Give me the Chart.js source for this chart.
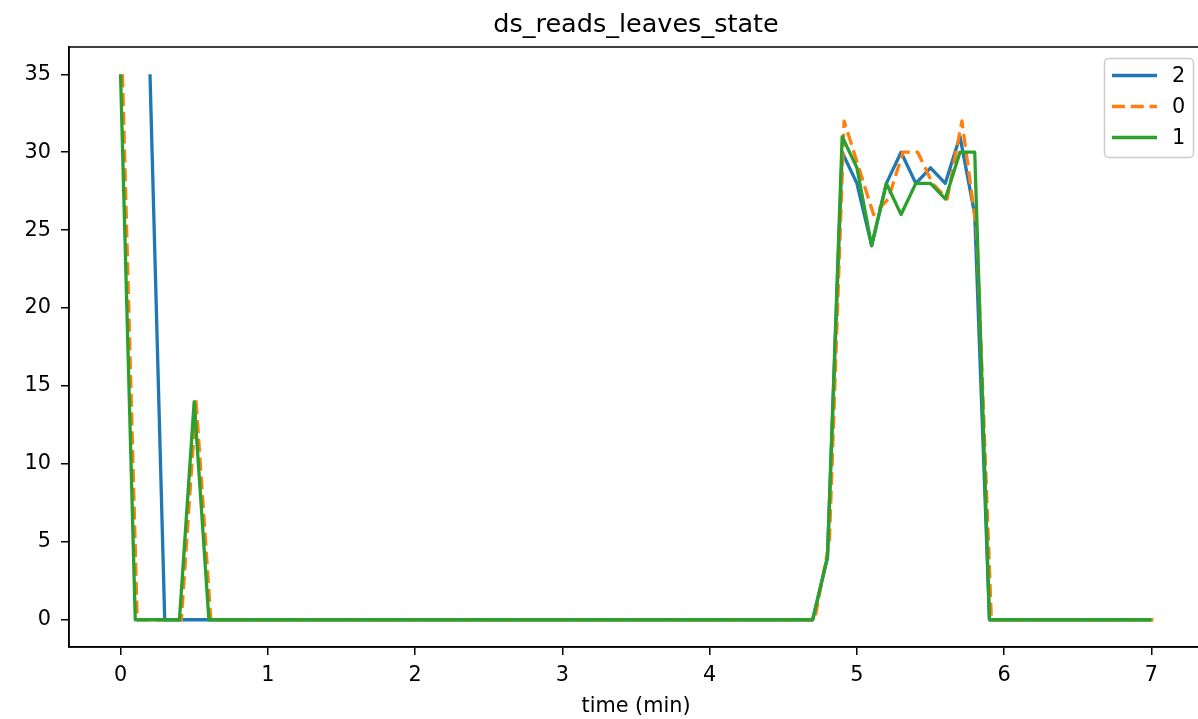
<!DOCTYPE html>
<html>
<head>
<meta charset="utf-8">
<script src="https://cdn.jsdelivr.net/npm/chart.js@4.4.0/dist/chart.umd.min.js"></script>
<style>
  html, body { margin: 0; padding: 0; background: #fff; overflow: hidden; }
  #wrap { width: 1198px; height: 719px; overflow: hidden; }
</style>
</head>
<body>
<!-- the axes run a few px past the right edge of the picture, so the canvas is wider and cropped -->
<div id="wrap"><canvas id="chart" width="1204" height="719"></canvas></div>
<script>
// sample times (min), one sample every 6 s
const times = [
  0.0, 0.1, 0.2, 0.3, 0.4, 0.5, 0.6, 0.7, 0.8, 0.9,
  1.0, 1.1, 1.2, 1.3, 1.4, 1.5, 1.6, 1.7, 1.8, 1.9,
  2.0, 2.1, 2.2, 2.3, 2.4, 2.5, 2.6, 2.7, 2.8, 2.9,
  3.0, 3.1, 3.2, 3.3, 3.4, 3.5, 3.6, 3.7, 3.8, 3.9,
  4.0, 4.1, 4.2, 4.3, 4.4, 4.5, 4.6, 4.7, 4.8, 4.9,
  5.0, 5.1, 5.2, 5.3, 5.4, 5.5, 5.6, 5.7, 5.8, 5.9,
  6.0, 6.1, 6.2, 6.3, 6.4, 6.5, 6.6, 6.7, 6.8, 6.9,
  7.0
];
// series "0" is sampled a little later than the others
const lag0 = 0.013;

const series2 = [
  null, null, 35, 0, 0, 0, 0, 0, 0, 0,
  0, 0, 0, 0, 0, 0, 0, 0, 0, 0,
  0, 0, 0, 0, 0, 0, 0, 0, 0, 0,
  0, 0, 0, 0, 0, 0, 0, 0, 0, 0,
  0, 0, 0, 0, 0, 0, 0, 0, 4, 30,
  28, 24, 28, 30, 28, 29, 28, 31, 26, 0,
  0, 0, 0, 0, 0, 0, 0, 0, 0, 0,
  0
];
const series0 = [
  35, 0, 0, 0, 0, 14, 0, 0, 0, 0,
  0, 0, 0, 0, 0, 0, 0, 0, 0, 0,
  0, 0, 0, 0, 0, 0, 0, 0, 0, 0,
  0, 0, 0, 0, 0, 0, 0, 0, 0, 0,
  0, 0, 0, 0, 0, 0, 0, 0, 5, 32,
  29, 26, 27, 30, 30, 28, 27, 32, 25, 0,
  0, 0, 0, 0, 0, 0, 0, 0, 0, 0,
  0
];
const series1 = [
  35, 0, 0, 0, 0, 14, 0, 0, 0, 0,
  0, 0, 0, 0, 0, 0, 0, 0, 0, 0,
  0, 0, 0, 0, 0, 0, 0, 0, 0, 0,
  0, 0, 0, 0, 0, 0, 0, 0, 0, 0,
  0, 0, 0, 0, 0, 0, 0, 0, 4, 31,
  29, 24, 28, 26, 28, 28, 27, 30, 30, 0,
  0, 0, 0, 0, 0, 0, 0, 0, 0, 0,
  0
];

const xTicks = [0, 1, 2, 3, 4, 5, 6, 7];
const yTicks = [0, 5, 10, 15, 20, 25, 30, 35];

const FONT = "'DejaVu Sans', sans-serif";
const TITLE = "ds_reads_leaves_state";
const LW = 3.3;
const DASH = [13, 5.8];

function toPoints(vals, shift) {
  return vals.map((v, i) => ({ x: times[i] + shift, y: v }));
}

const legendItems = [
  { label: "2", color: "#1f77b4", dash: [] },
  { label: "0", color: "#ff7f0e", dash: DASH },
  { label: "1", color: "#2ca02c", dash: [] },
];

// matplotlib-style frame, title over the axes, legend box
const framePlugin = {
  id: "frame",
  afterDatasetsDraw(chart) {
    const { ctx, chartArea: a } = chart;
    ctx.save();
    ctx.strokeStyle = "#000";
    ctx.lineWidth = 1.5;
    ctx.strokeRect(a.left, a.top, a.right - a.left, a.bottom - a.top);

    ctx.fillStyle = "#000";
    ctx.font = "25.5px " + FONT;
    ctx.textAlign = "center";
    ctx.textBaseline = "alphabetic";
    ctx.fillText(TITLE, (a.left + a.right) / 2, 32);

    // legend
    const bx = 1104, by = 58, bw = 89, bh = 99;
    ctx.beginPath();
    ctx.roundRect(bx + 0.5, by + 0.5, bw, bh, 4);
    ctx.fillStyle = "rgba(255,255,255,0.8)";
    ctx.fill();
    ctx.strokeStyle = "#cccccc";
    ctx.lineWidth = 1.5;
    ctx.stroke();
    ctx.font = "20.8px " + FONT;
    ctx.textBaseline = "middle";
    ctx.textAlign = "left";
    legendItems.forEach((it, i) => {
      const y = 75.5 + i * 31;
      ctx.beginPath();
      ctx.setLineDash(it.dash);
      ctx.strokeStyle = it.color;
      ctx.lineWidth = LW;
      ctx.moveTo(1112, y);
      ctx.lineTo(1157, y);
      ctx.stroke();
      ctx.setLineDash([]);
      ctx.fillStyle = "#000";
      ctx.fillText(it.label, 1172, y + 1);
    });
    ctx.restore();
  }
};

new Chart(document.getElementById("chart"), {
  type: "line",
  data: {
    datasets: [
      { label: "2", data: toPoints(series2, 0), borderColor: "#1f77b4", order: 2 },
      { label: "0", data: toPoints(series0, lag0), borderColor: "#ff7f0e", borderDash: DASH, order: 1 },
      { label: "1", data: toPoints(series1, 0), borderColor: "#2ca02c", order: 0 },
    ]
  },
  options: {
    responsive: false,
    animation: false,
    devicePixelRatio: 1,
    spanGaps: false,
    layout: { padding: { left: 0, right: 1, top: 47, bottom: 0 } },
    elements: {
      point: { radius: 0 },
      line: { borderWidth: LW, tension: 0, borderJoinStyle: "round", borderCapStyle: "butt", fill: false }
    },
    plugins: {
      legend: { display: false },
      tooltip: { enabled: false },
      title: { display: false }
    },
    scales: {
      x: {
        type: "linear",
        min: -0.35,
        max: 7.35,
        afterBuildTicks: axis => { axis.ticks = xTicks.map(v => ({ value: v })); },
        afterFit: axis => { axis.height = 72; },
        grid: { display: true, drawOnChartArea: false, drawTicks: true, tickLength: 8, color: "#000", lineWidth: 1.5 },
        border: { display: true, color: "#000", width: 1.5 },
        ticks: { color: "#000", font: { family: FONT, size: 20.8 }, padding: 8, maxRotation: 0 },
        title: {
          display: true,
          text: "time (min)",
          color: "#000",
          font: { family: FONT, size: 20.8 },
          padding: { top: 0, bottom: 0 }
        }
      },
      y: {
        type: "linear",
        min: -1.75,
        max: 36.75,
        afterBuildTicks: axis => { axis.ticks = yTicks.map(v => ({ value: v })); },
        afterFit: axis => { axis.width = 69; },
        grid: { display: true, drawOnChartArea: false, drawTicks: true, tickLength: 8, color: "#000", lineWidth: 1.5 },
        border: { display: true, color: "#000", width: 1.5 },
        ticks: { color: "#000", font: { family: FONT, size: 20.8 }, padding: 10 }
      }
    }
  },
  plugins: [framePlugin]
});
</script>
</body>
</html>
